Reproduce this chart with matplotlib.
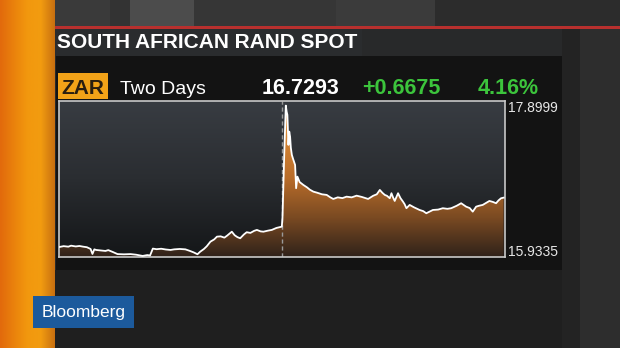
import numpy as np
import matplotlib
matplotlib.use("Agg")
import matplotlib.pyplot as plt
from matplotlib.colors import LinearSegmentedColormap
from matplotlib.patches import Rectangle

# ZAR spot, two days (hours since start of window)
times = [0.0, 0.5, 1.0, 1.3, 1.8, 2.2, 2.6, 3.0, 3.4, 3.6, 3.8, 4.0, 4.5, 5.0, 5.3,
         5.8, 6.3, 7.0, 7.7, 8.3, 9.0, 9.5, 9.8, 10.1, 10.5, 11.0, 11.5, 12.0, 12.4,
         13.0, 13.6, 14.1, 14.5, 14.9, 15.2, 15.6, 15.9, 16.3, 16.7, 17.0, 17.4, 17.8,
         18.1, 18.4, 18.6, 18.9, 19.2, 19.5, 19.9, 20.2, 20.6, 21.0, 21.3, 21.7, 22.0,
         22.5, 22.9, 23.4, 23.98,
         24.05, 24.25, 24.41, 24.5, 24.58, 24.69, 24.78, 24.87, 24.95, 25.06, 25.2,
         25.41, 25.52, 25.66, 25.9, 26.3, 26.7, 27.0, 27.37, 27.8, 28.3, 28.81, 29.2,
         29.52, 30.0, 30.5, 30.95, 31.5, 32.03, 32.6, 33.27, 33.8, 34.2, 34.53, 34.8,
         35.06, 35.3, 35.6, 35.78, 35.95, 36.13, 36.49, 36.75, 37.02, 37.2, 37.39,
         37.74, 38.2, 38.81, 39.2, 39.53, 39.9, 40.24, 40.8, 41.31, 41.8, 42.21, 42.8,
         43.28, 43.82, 44.2, 44.53, 44.89, 45.2, 45.6, 46.0, 46.32, 46.7, 47.04, 47.3,
         47.57, 47.85]
prices = [16.050, 16.062, 16.055, 16.068, 16.058, 16.064, 16.055, 16.048, 16.025,
          15.960, 16.020, 16.012, 16.005, 15.999, 16.010, 15.985, 15.958, 15.955,
          15.958, 15.950, 15.934, 15.945, 15.940, 16.030, 16.022, 16.028, 16.018,
          16.012, 16.020, 16.025, 16.020, 15.999, 15.980, 15.956, 15.990, 16.025,
          16.060, 16.121, 16.150, 16.186, 16.190, 16.173, 16.200, 16.230, 16.251,
          16.205, 16.180, 16.165, 16.215, 16.244, 16.235, 16.262, 16.274, 16.255,
          16.251, 16.265, 16.274, 16.300, 16.317,
          16.431, 17.300, 17.900, 17.820, 17.778, 17.386, 17.560, 17.494, 17.350,
          17.255, 17.200, 17.124, 16.819, 16.971, 16.900, 16.862, 16.830, 16.800,
          16.775, 16.760, 16.740, 16.732, 16.700, 16.679, 16.700, 16.690, 16.709,
          16.700, 16.722, 16.705, 16.679, 16.720, 16.740, 16.797, 16.760, 16.732,
          16.720, 16.688, 16.754, 16.700, 16.653, 16.754, 16.690, 16.644, 16.610,
          16.558, 16.601, 16.570, 16.535, 16.520, 16.492, 16.515, 16.535, 16.540,
          16.558, 16.550, 16.558, 16.590, 16.623, 16.578, 16.560, 16.513, 16.578,
          16.590, 16.601, 16.630, 16.653, 16.640, 16.623, 16.660, 16.688, 16.696]

title_text = "SOUTH AFRICAN RAND SPOT"
ticker = "ZAR"
period = "Two Days"
last_px = "16.7293"
net_chg = "+0.6675"
pct_chg = "4.16%"
y_hi_label = "17.8999"
y_lo_label = "15.9335"

FONT = "Liberation Sans"
W, H = 620, 348

fig = plt.figure(figsize=(W / 100, H / 100), dpi=100)
fig.patch.set_facecolor("#242424")

# background layer in pixel coordinates
bg = fig.add_axes([0, 0, 1, 1])
bg.set_xlim(0, W)
bg.set_ylim(H, 0)
bg.axis("off")


def box(x0, y0, x1, y1, color, z=1):
    bg.add_patch(Rectangle((x0, y0), x1 - x0, y1 - y0, color=color, lw=0, zorder=z))


# top strip blocks
box(55, 0, 620, 27, "#303030")
box(55, 0, 110, 27, "#3a3a3a")
box(110, 0, 130, 27, "#333333")
box(130, 0, 194, 27, "#4c4c4c")
box(194, 0, 336, 27, "#363636")
box(336, 0, 435, 27, "#3b3b3b")
box(435, 0, 620, 27, "#2c2c2c")
box(50, 26, 620, 28.5, "#b8302e", z=2)

# right side and under panel
box(55, 28.5, 620, 348, "#28292a")
box(562, 28.5, 580, 348, "#232323")
box(580, 28.5, 620, 348, "#2d2d2d")
box(55, 270, 562, 348, "#1f1f1f")

# title banner
box(51, 29, 362, 56, "#2a2c2e", z=2)
bg.text(57, 48.5, title_text, color="white", fontsize=15, fontweight="bold",
        family=FONT, va="baseline", ha="left", zorder=5)

# black quote panel
box(56, 56, 562, 270, "#131313", z=2)
box(58, 73, 108, 99, "#f2a218", z=3)
bg.text(83, 94, ticker, color="#2a1e10", fontsize=15, fontweight="bold",
        family=FONT, va="baseline", ha="center", zorder=5)
bg.text(120, 94, period, color="white", fontsize=14, family=FONT,
        va="baseline", ha="left", zorder=5)
bg.text(262, 94, last_px, color="white", fontsize=15.5, fontweight="bold",
        family=FONT, va="baseline", ha="left", zorder=5)
bg.text(362, 94, net_chg, color="#3cc43c", fontsize=15.5, fontweight="bold",
        family=FONT, va="baseline", ha="left", zorder=5)
bg.text(478, 94, pct_chg, color="#3cc43c", fontsize=15.5, fontweight="bold",
        family=FONT, va="baseline", ha="left", zorder=5)
bg.text(508, 108, y_hi_label, color="#e6e6e6", fontsize=10, family=FONT,
        va="center", ha="left", zorder=5)
bg.text(508, 251.5, y_lo_label, color="#e6e6e6", fontsize=10, family=FONT,
        va="center", ha="left", zorder=5)

# orange side strip
side_cmap = LinearSegmentedColormap.from_list(
    "side", ["#e26a0c", "#ea820c", "#f2980e", "#f29c10", "#c87010"])
bg.imshow(np.linspace(0, 1, 64)[None, :], cmap=side_cmap, aspect="auto",
          extent=(0, 55, H, 0), zorder=3)

# Bloomberg tag
box(33, 296, 134, 328, "#1c5a9c", z=6)
bg.text(83.5, 312.5, "Bloomberg", color="white", fontsize=12.5, family=FONT,
        va="center", ha="center", zorder=7)

# chart
ax = fig.add_axes([59 / W, 1 - 257 / H, (505 - 59) / W, (257 - 101) / H])
ax.set_xlim(0, 48)
ax.set_ylim(15.92, 17.96)
ax.set_xticks([])
ax.set_yticks([])
for sp in ax.spines.values():
    sp.set_color("#c8c8c8")
    sp.set_linewidth(1.2)

plot_cmap = LinearSegmentedColormap.from_list("plotbg", ["#141618", "#2a2d31", "#383c42"])
ax.imshow(np.linspace(0, 1, 128)[:, None], cmap=plot_cmap, aspect="auto",
          origin="lower", extent=(0, 48, 15.92, 17.96), zorder=0)

fill_cmap = LinearSegmentedColormap.from_list(
    "fill", ["#30221a", "#7a4a22", "#b86c2a", "#d48434", "#e4943c"])
poly = ax.fill_between(times, prices, 15.92, color="none", lw=0)
grad = ax.imshow(np.linspace(0, 1, 128)[:, None], cmap=fill_cmap, aspect="auto",
                 origin="lower", extent=(0, 48, 15.92, 17.96), zorder=1)
grad.set_clip_path(poly.get_paths()[0], transform=ax.transData)

ax.axvline(24, color="#9a9a9a", lw=1, ls=(0, (3, 2)), zorder=2)
ax.plot(times, prices, color="white", lw=1.3, zorder=3)

fig.savefig("out.png", dpi=100, facecolor=fig.get_facecolor())
